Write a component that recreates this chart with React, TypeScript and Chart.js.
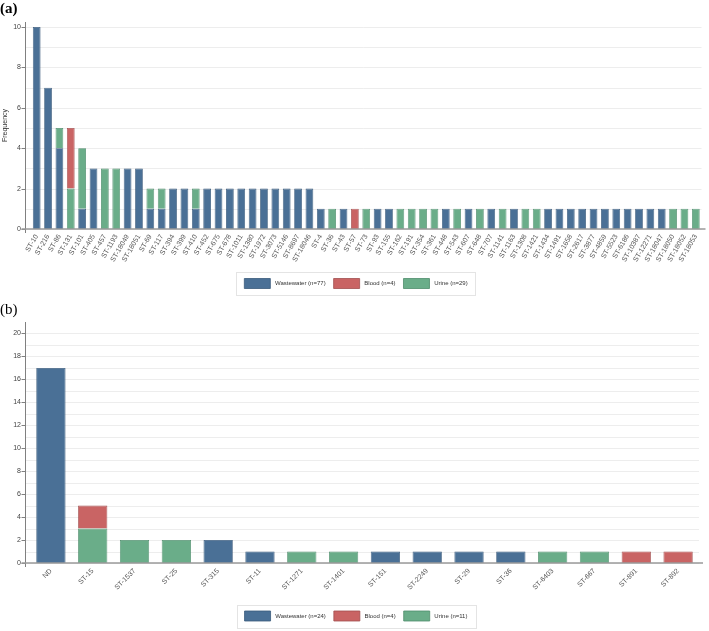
import React, { useEffect, useRef } from "react";
import { Chart, registerables } from "chart.js";

Chart.register(...registerables);

const FONT = "'Liberation Sans', Arial, sans-serif";

// ---------- Panel (a) ----------
const categoriesA = [
  "ST-10", "ST-216", "ST-86", "ST-131", "ST-101", "ST-405", "ST-457", "ST-1193", "ST-18049", "ST-18051",
  "ST-69", "ST-117", "ST-394", "ST-399", "ST-410", "ST-452", "ST-675", "ST-678", "ST-1011", "ST-1380",
  "ST-1972", "ST-3073", "ST-5146", "ST-8697", "ST-18046", "ST-4", "ST-36", "ST-43", "ST-57", "ST-73",
  "ST-93", "ST-155", "ST-162", "ST-191", "ST-354", "ST-361", "ST-448", "ST-543", "ST-607", "ST-648",
  "ST-707", "ST-1141", "ST-1163", "ST-1308", "ST-1421", "ST-1434", "ST-1491", "ST-1658", "ST-2617", "ST-3877",
  "ST-4859", "ST-5523", "ST-6186", "ST-10387", "ST-12271", "ST-18047", "ST-18050", "ST-18052", "ST-18053",
];
const wastewaterA = [
  10, 7, 4, 0, 1, 3, 0, 0, 3, 3,
  1, 1, 2, 2, 1, 2, 2, 2, 2, 2,
  2, 2, 2, 2, 2, 1, 0, 1, 0, 0,
  1, 1, 0, 0, 0, 0, 1, 0, 1, 0,
  1, 0, 1, 0, 0, 1, 1, 1, 1, 1,
  1, 1, 1, 1, 1, 1, 0, 0, 0,
];
const urineA = [
  0, 0, 1, 2, 3, 0, 3, 3, 0, 0,
  1, 1, 0, 0, 1, 0, 0, 0, 0, 0,
  0, 0, 0, 0, 0, 0, 1, 0, 0, 1,
  0, 0, 1, 1, 1, 1, 0, 1, 0, 1,
  0, 1, 0, 1, 1, 0, 0, 0, 0, 0,
  0, 0, 0, 0, 0, 0, 1, 1, 1,
];
const bloodA = [
  0, 0, 0, 3, 0, 0, 0, 0, 0, 0,
  0, 0, 0, 0, 0, 0, 0, 0, 0, 0,
  0, 0, 0, 0, 0, 0, 0, 0, 1, 0,
  0, 0, 0, 0, 0, 0, 0, 0, 0, 0,
  0, 0, 0, 0, 0, 0, 0, 0, 0, 0,
  0, 0, 0, 0, 0, 0, 0, 0, 0,
];

// ---------- Panel (b) ----------
const categoriesB = [
  "ND", "ST-15", "ST-1537", "ST-25", "ST-315", "ST-11", "ST-1271", "ST-1401",
  "ST-151", "ST-2249", "ST-29", "ST-36", "ST-6403", "ST-667", "ST-891", "ST-892",
];
const wastewaterB = [17, 0, 0, 0, 2, 1, 0, 0, 1, 1, 1, 1, 0, 0, 0, 0];
const urineB = [0, 3, 2, 2, 0, 0, 1, 1, 0, 0, 0, 0, 1, 1, 0, 0];
const bloodB = [0, 2, 0, 0, 0, 0, 0, 0, 0, 0, 0, 0, 0, 0, 1, 1];

const seriesNames = ["Wastewater", "Urine", "Blood"];
const legendRank = [0, 2, 1]; // legend order: Wastewater, Blood, Urine
const fillColors = ["#4a7096", "#6aad89", "#c96464"];
const edgeColors = ["#3a5a7b", "#4f8d6c", "#a24f4f"];

const sum = (a: number[]) => a.reduce((s, v) => s + v, 0);

const axesPlugin = {
  id: "customAxes",
  beforeDatasetsDraw(chart: any, _args: any, opts: any) {
    const { ctx, chartArea } = chart;
    const y = chart.scales.y;
    const ax = chartArea.left - opts.gap;
    ctx.save();
    ctx.strokeStyle = "#ededed";
    ctx.lineWidth = 1;
    for (let v = 0; v <= opts.gridMax; v++) {
      const py = Math.round(y.getPixelForValue(v)) + 0.5;
      ctx.beginPath();
      ctx.moveTo(ax, py);
      ctx.lineTo(chartArea.right, py);
      ctx.stroke();
    }
    ctx.restore();
  },
  afterDatasetsDraw(chart: any, _args: any, opts: any) {
    const { ctx, chartArea } = chart;
    const y = chart.scales.y;
    const ax = Math.round(chartArea.left - opts.gap) + 0.5;
    const y0 = y.getPixelForValue(0);
    ctx.save();
    ctx.strokeStyle = "#808080";
    ctx.lineWidth = 1;
    ctx.beginPath();
    ctx.moveTo(ax, chartArea.top);
    ctx.lineTo(ax, y0 + 4);
    ctx.stroke();
    for (let v = 0; v <= opts.gridMax; v += 2) {
      const py = Math.round(y.getPixelForValue(v)) + 0.5;
      ctx.beginPath();
      ctx.moveTo(ax - 4, py);
      ctx.lineTo(ax, py);
      ctx.stroke();
    }
    ctx.strokeStyle = "#9a9a9a";
    ctx.lineWidth = 1.5;
    ctx.beginPath();
    ctx.moveTo(ax - 4, y0);
    ctx.lineTo(chartArea.right + 4, y0);
    ctx.stroke();
    // y-axis title
    if (opts.yTitle) {
      ctx.save();
      ctx.translate(5, (chartArea.top + chartArea.bottom) / 2);
      ctx.rotate(-Math.PI / 2);
      ctx.fillStyle = "#333";
      ctx.font = `7px ${FONT}`;
      ctx.textAlign = "center";
      ctx.textBaseline = "middle";
      ctx.fillText(opts.yTitle, 0, 0);
      ctx.restore();
    }
    ctx.restore();
  },
};

const legendBoxPlugin = {
  id: "legendBox",
  afterDraw(chart: any) {
    const lg = chart.legend;
    if (!lg || !lg.legendHitBoxes || !lg.legendHitBoxes.length) return;
    const hb = lg.legendHitBoxes;
    const l = Math.min(...hb.map((h: any) => h.left)) - 8;
    const r = Math.max(...hb.map((h: any) => h.left + h.width)) + 8;
    const t = hb[0].top - 6.5;
    const b = hb[0].top + hb[0].height + 6.5;
    const ctx = chart.ctx;
    ctx.save();
    ctx.strokeStyle = "#e4e4e4";
    ctx.lineWidth = 1;
    ctx.strokeRect(Math.round(l) + 0.5, Math.round(t) + 0.5, Math.round(r - l), Math.round(b - t));
    ctx.restore();
  },
};

function buildConfig(p: {
  categories: string[];
  series: number[][];
  yMax: number;
  gridMax: number;
  gap: number;
  yWidth: number;
  yPad: number;
  xHeight: number;
  rotation: number;
  barPct: number;
  padding: { top: number; right: number; bottom: number; left: number };
  yTitle: string | null;
}) {
  return {
    type: "bar",
    data: {
      labels: p.categories,
      datasets: p.series.map((vals, i) => ({
        label: ` ${seriesNames[i]} (n=${sum(vals)})`,
        data: vals.map((v) => (v ? v : null)),
        backgroundColor: fillColors[i],
        borderColor: edgeColors[i],
        borderWidth: 0.8,
        categoryPercentage: 1,
        barPercentage: p.barPct,
      })),
    },
    options: {
      responsive: false,
      animation: false,
      devicePixelRatio: 1,
      layout: { padding: p.padding },
      scales: {
        x: {
          stacked: true,
          grid: { display: false, drawTicks: false },
          border: { display: false },
          ticks: {
            autoSkip: false,
            maxRotation: p.rotation,
            minRotation: p.rotation,
            padding: 4,
            color: "#555",
            font: { family: FONT, size: 7 },
          },
          afterFit: (s: any) => {
            s.height = p.xHeight;
          },
        },
        y: {
          stacked: true,
          min: 0,
          max: p.yMax,
          grid: { display: false, drawTicks: false },
          border: { display: false },
          ticks: {
            stepSize: 2,
            includeBounds: false,
            padding: p.yPad,
            color: "#444",
            font: { family: FONT, size: 7 },
          },
          afterFit: (s: any) => {
            s.width = p.yWidth;
          },
        },
      },
      plugins: {
        customAxes: { gap: p.gap, gridMax: p.gridMax, yTitle: p.yTitle },
        tooltip: { enabled: false },
        legend: {
          position: "bottom",
          labels: {
            boxWidth: 26,
            boxHeight: 10,
            padding: 8,
            color: "#333",
            font: { family: FONT, size: 6 },
            sort: (a: any, b: any) => legendRank[a.datasetIndex] - legendRank[b.datasetIndex],
          },
        },
      },
    },
    plugins: [axesPlugin, legendBoxPlugin],
  } as any;
}

function BarPanel(props: { config: any; width: number; height: number; top: number }) {
  const ref = useRef<HTMLCanvasElement | null>(null);
  useEffect(() => {
    if (!ref.current) return;
    const chart = new Chart(ref.current, props.config);
    return () => chart.destroy();
  }, []);
  return (
    <canvas
      ref={ref}
      width={props.width}
      height={props.height}
      style={{ position: "absolute", left: 0, top: props.top, width: props.width, height: props.height }}
    />
  );
}

export default function App() {
  const configA = buildConfig({
    categories: categoriesA,
    series: [wastewaterA, urineA, bloodA],
    yMax: 10.25,
    gridMax: 10,
    gap: 6,
    yWidth: 20.5,
    yPad: 10,
    xHeight: 41.5,
    rotation: 60,
    barPct: 0.68,
    padding: { top: 22, right: 7.5, bottom: 1.5, left: 10.5 },
    yTitle: "Frequency",
  });
  const configB = buildConfig({
    categories: categoriesB,
    series: [wastewaterB, urineB, bloodB],
    yMax: 21,
    gridMax: 20,
    gap: 5,
    yWidth: 17,
    yPad: 9,
    xHeight: 40,
    rotation: 45,
    barPct: 0.7,
    padding: { top: 22, right: 10, bottom: 0, left: 13 },
    yTitle: null,
  });
  return (
    <div style={{ position: "absolute", left: 0, top: 0, width: 709, height: 631, background: "#fff", overflow: "hidden" }}>
      <BarPanel config={configA} width={709} height={300} top={0} />
      <BarPanel config={configB} width={709} height={331} top={300} />
      <div style={{ position: "absolute", left: 0, top: -1, fontFamily: "'Liberation Serif', serif", fontSize: 15, fontWeight: "bold", lineHeight: "18px" }}>(a)</div>
      <div style={{ position: "absolute", left: 0, top: 300, fontFamily: "'Liberation Serif', serif", fontSize: 15, lineHeight: "18px" }}>(b)</div>
    </div>
  );
}
